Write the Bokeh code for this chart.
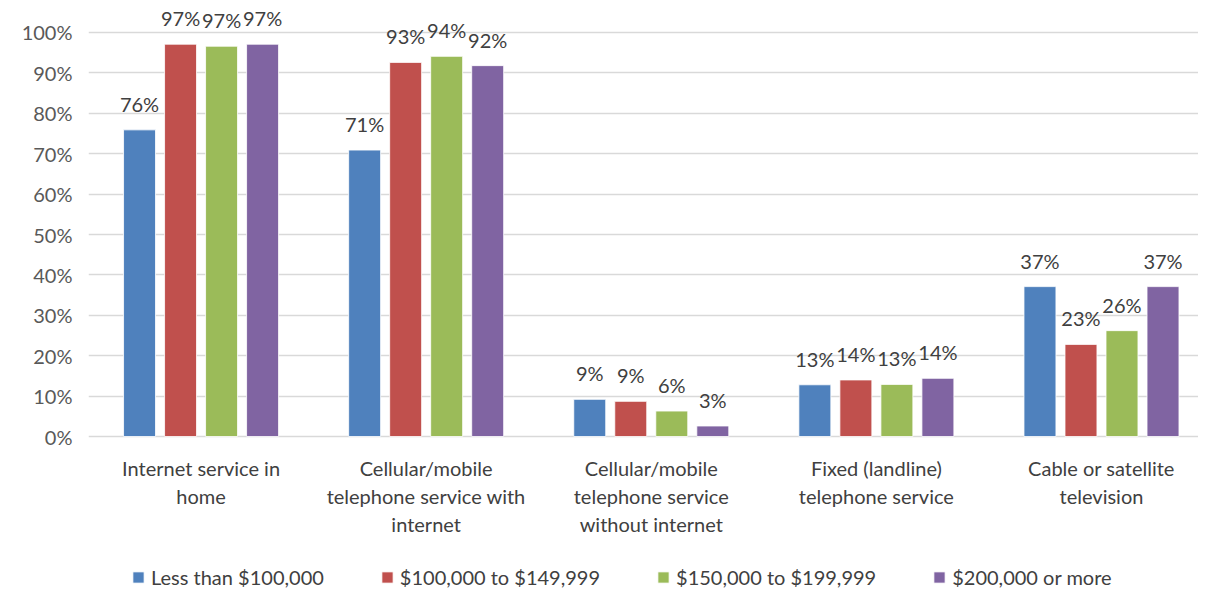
from bokeh.plotting import figure
from bokeh.models import ColumnDataSource, Range1d, FixedTicker, PrintfTickFormatter, Legend, LegendItem
from bokeh.transform import dodge
from bokeh.core.properties import value
from bokeh.embed import file_html
from bokeh.resources import INLINE

categories = [
    "Internet service in\nhome",
    "Cellular/mobile\ntelephone service with\ninternet",
    "Cellular/mobile\ntelephone service\nwithout internet",
    "Fixed (landline)\ntelephone service",
    "Cable or satellite\ntelevision",
]
series_names = ["Less than $100,000", "$100,000 to $149,999", "$150,000 to $199,999", "$200,000 or more"]
less_100k = [75.9, 70.9, 9.2, 12.8, 37.1]
k100_149 = [97.1, 92.6, 8.7, 14.0, 22.8]
k150_199 = [96.6, 94.1, 6.3, 12.9, 26.2]
k200_plus = [97.1, 91.8, 2.6, 14.4, 37.1]
colors = ["#4F81BD", "#C0504D", "#9BBB59", "#8064A2"]
y_ticks = list(range(0, 101, 10))

FONT = "Lato"
FS = "20px"
series = [less_100k, k100_149, k150_199, k200_plus]
xpos = [i + 0.5 for i in range(len(categories))]
data = {"x": xpos}
for i, s in enumerate(series):
    data[f"s{i}"] = s
    data[f"l{i}"] = [f"{round(v)}%" for v in s]
src = ColumnDataSource(data)

# frame covers the whole lower area so category labels and legend sit inside it
p = figure(frame_width=1110, frame_height=581, output_backend="svg", toolbar_location=None,
           x_range=Range1d(0, 4.931), y_range=Range1d(-37.87, 105.94),
           x_axis_location=None,
           min_border_left=88, min_border_right=0, min_border_top=8, min_border_bottom=0)
p.outline_line_color = None
p.xgrid.grid_line_color = None
p.ygrid.grid_line_color = "#D9D9D9"
p.ygrid.grid_line_width = 1.4
p.ygrid.ticker = FixedTicker(ticks=y_ticks)

offsets = [-0.2733, -0.0911, 0.0911, 0.2733]
bar_w = 0.142
items = []
for i in range(4):
    r = p.vbar(x=dodge("x", offsets[i]), top=f"s{i}", width=bar_w, source=src,
               fill_color=colors[i], line_color="white", line_width=0.8)
    p.text(x=dodge("x", offsets[i]), y=f"s{i}", text=f"l{i}", source=src,
           text_align="center", text_baseline="bottom", y_offset=-14,
           text_font=value(FONT), text_font_size=FS, text_color="#404040")
    items.append(LegendItem(label=series_names[i], renderers=[r]))

p.yaxis.ticker = FixedTicker(ticks=y_ticks)
p.yaxis.formatter = PrintfTickFormatter(format="%d%%")
p.yaxis.axis_line_color = None
p.yaxis.major_tick_line_color = None
p.yaxis.minor_tick_line_color = None
p.yaxis.major_label_text_font = FONT
p.yaxis.major_label_text_font_size = FS
p.yaxis.major_label_text_color = "#595959"
p.yaxis.major_label_standoff = 10

# category labels, one text line at a time, centred under each group
split = [c.split("\n") for c in categories]
n_lines = max(len(s) for s in split)
for k in range(n_lines):
    xs = [x for x, s in zip(xpos, split) if k < len(s)]
    ts = [s[k] for s in split if k < len(s)]
    lsrc = ColumnDataSource({"x": xs, "y": [y_ticks[0]] * len(xs), "t": ts})
    p.text(x="x", y="y", text="t", source=lsrc, y_offset=31 + 28 * k,
           text_align="center", text_baseline="middle",
           text_font=value(FONT), text_font_size=FS, text_color="#404040")

legend = Legend(items=items, orientation="horizontal", location=(43, 0),
                label_text_font=FONT, label_text_font_size=FS, label_text_color="#404040",
                glyph_width=14, glyph_height=14, label_standoff=6, spacing=56,
                border_line_color=None, background_fill_alpha=0, padding=0, margin=0)
p.add_layout(legend, "center")

open("out.html", "w").write(file_html(p, INLINE))
